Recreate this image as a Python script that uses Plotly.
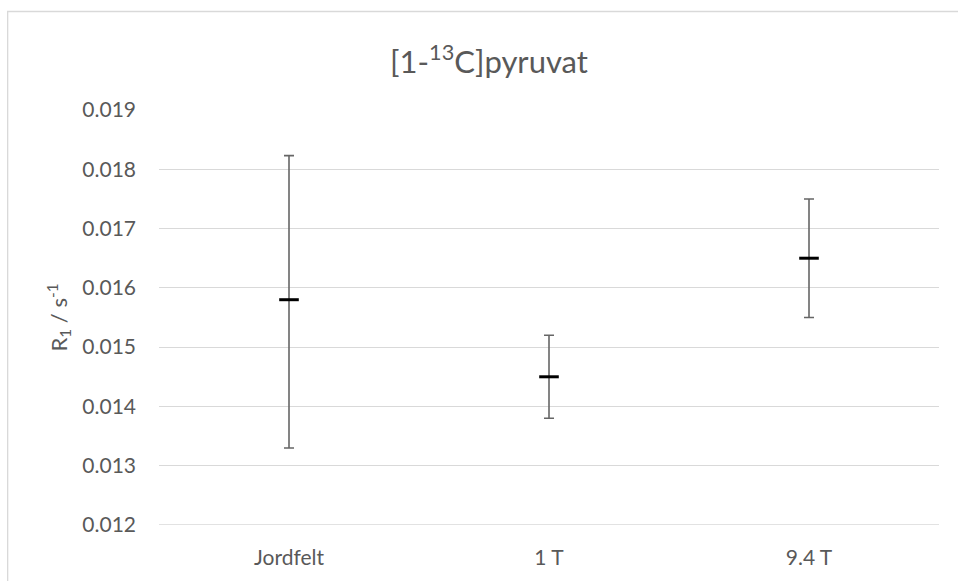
import plotly.graph_objects as go

categories = ["Jordfelt", "1 T", "9.4 T"]
r1_values = [0.0158, 0.0145, 0.0165]
err_plus = [0.00243, 0.0007, 0.001]
err_minus = [0.0025, 0.0007, 0.001]
y_ticks = [0.012, 0.013, 0.014, 0.015, 0.016, 0.017, 0.018, 0.019]

FONT = "Lato"
GRAY = "#595959"
GRID = "#d9d9d9"

fig = go.Figure()
fig.add_trace(go.Scatter(
    x=categories, y=r1_values, mode="markers",
    marker=dict(symbol="line-ew", size=14, line=dict(width=3, color="black"), color="black"),
    error_y=dict(type="data", symmetric=False, array=err_plus, arrayminus=err_minus,
                 color="#666666", thickness=1.6, width=5),
    showlegend=False,
))

fig.update_layout(
    width=958, height=581,
    margin=dict(l=159, r=19, t=110, b=56),
    paper_bgcolor="white", plot_bgcolor="white",
    font=dict(family=FONT, color=GRAY),
    title=dict(text="[1-<sup>13</sup>C]pyruvat", x=(489-159)/780, xref="paper", xanchor="center",
               y=1-62/581, yanchor="middle", font=dict(size=31, color=GRAY, family=FONT)),
    xaxis=dict(range=[-0.5, 2.5], showgrid=False, showline=False, zeroline=False, ticks="",
               tickfont=dict(size=21, color=GRAY), ticklabelstandoff=18),
    yaxis=dict(range=[y_ticks[0], y_ticks[-1]], tickvals=y_ticks, tickformat=".3f",
               showgrid=True, gridcolor=GRID, gridwidth=1.3, zeroline=False, showline=False,
               ticks="", tickfont=dict(size=21, color=GRAY), ticklabelstandoff=22),
    shapes=[
        dict(type="rect", xref="paper", yref="paper", x0=-0.194, x1=1.2, y0=-0.3, y1=1+(110-11.5)/415,
             line=dict(color=GRID, width=1.3), fillcolor="rgba(0,0,0,0)", layer="below"),
        dict(type="line", xref="paper", yref="y", x0=0, x1=1, y0=y_ticks[0], y1=y_ticks[0],
             line=dict(color=GRID, width=1.3), layer="below"),
    ],
    annotations=[dict(text="R<sub>1</sub> / s<sup>-1</sup>", textangle=-90, xref="paper", yref="paper",
                      x=(58-159)/780, y=0.5, xanchor="center", yanchor="middle", showarrow=False,
                      font=dict(size=22, color=GRAY, family=FONT))],
)

fig.write_html("out.html")
